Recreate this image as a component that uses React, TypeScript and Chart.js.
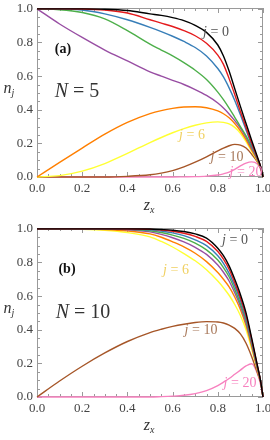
import React, { useEffect, useRef } from "react";
import { Chart, registerables } from "chart.js";
Chart.register(...registerables);

// ---- data ----
const zx = [0, 0.1, 0.2, 0.3, 0.4, 0.5, 0.55, 0.6, 0.65, 0.7, 0.75, 0.8, 0.825, 0.85, 0.875, 0.9, 0.925, 0.95, 0.975, 0.99, 1];

// panel (a) N = 5
const a_j0 = [1, 1, 1, 0.998, 0.99, 0.97, 0.961, 0.948, 0.93, 0.902, 0.86, 0.785, 0.72, 0.63, 0.525, 0.42, 0.318, 0.217, 0.12, 0.06, 0];
const a_j1 = [1, 1, 0.999, 0.993, 0.975, 0.935, 0.915, 0.895, 0.87, 0.84, 0.795, 0.725, 0.67, 0.585, 0.49, 0.39, 0.295, 0.2, 0.115, 0.059, 0];
const a_j2 = [1, 1, 0.993, 0.97, 0.935, 0.89, 0.865, 0.837, 0.806, 0.77, 0.72, 0.645, 0.595, 0.53, 0.455, 0.37, 0.28, 0.19, 0.11, 0.058, 0];
const a_j3 = [1, 0.995, 0.978, 0.94, 0.87, 0.79, 0.755, 0.72, 0.68, 0.635, 0.58, 0.505, 0.46, 0.41, 0.355, 0.3, 0.245, 0.18, 0.107, 0.056, 0];
const a_j4 = [1, 0.91, 0.83, 0.755, 0.69, 0.625, 0.6, 0.575, 0.55, 0.52, 0.485, 0.44, 0.41, 0.375, 0.335, 0.29, 0.235, 0.17, 0.104, 0.055, 0];
const a_j5 = [0, 0.087, 0.172, 0.255, 0.325, 0.377, 0.395, 0.408, 0.416, 0.418, 0.412, 0.393, 0.376, 0.352, 0.318, 0.275, 0.222, 0.16, 0.1, 0.055, 0];
const a_j6 = [0, 0.008, 0.035, 0.08, 0.14, 0.205, 0.235, 0.263, 0.288, 0.308, 0.322, 0.328, 0.325, 0.316, 0.295, 0.26, 0.21, 0.152, 0.096, 0.053, 0];
const a_j10 = [0, 0, 0, 0, 0.004, 0.013, 0.023, 0.038, 0.06, 0.088, 0.12, 0.155, 0.172, 0.186, 0.194, 0.19, 0.172, 0.135, 0.09, 0.05, 0];
const a_j20 = [0, 0, 0, 0, 0, 0, 0, 0, 0.001, 0.002, 0.005, 0.012, 0.019, 0.029, 0.046, 0.066, 0.083, 0.09, 0.078, 0.045, 0];

// panel (b) N = 10
const b_j0 = [1, 1, 1, 1, 1, 0.999, 0.996, 0.992, 0.984, 0.97, 0.945, 0.885, 0.84, 0.78, 0.7, 0.61, 0.5, 0.35, 0.19, 0.09, 0];
const b_j1 = [1, 1, 1, 1, 0.999, 0.997, 0.993, 0.986, 0.974, 0.955, 0.925, 0.865, 0.82, 0.76, 0.68, 0.59, 0.485, 0.34, 0.185, 0.09, 0];
const b_j2 = [1, 1, 1, 1, 0.998, 0.994, 0.987, 0.976, 0.96, 0.935, 0.9, 0.84, 0.795, 0.735, 0.66, 0.575, 0.47, 0.33, 0.18, 0.09, 0];
const b_j3 = [1, 1, 1, 1, 0.998, 0.989, 0.978, 0.963, 0.943, 0.915, 0.875, 0.815, 0.77, 0.715, 0.64, 0.555, 0.455, 0.32, 0.175, 0.09, 0];
const b_j4 = [1, 1, 1, 0.999, 0.995, 0.982, 0.967, 0.947, 0.922, 0.89, 0.848, 0.785, 0.742, 0.69, 0.62, 0.54, 0.44, 0.31, 0.17, 0.088, 0];
const b_j5 = [1, 1, 0.999, 0.996, 0.988, 0.97, 0.95, 0.923, 0.893, 0.855, 0.805, 0.74, 0.7, 0.655, 0.595, 0.52, 0.425, 0.3, 0.165, 0.088, 0];
const b_j6 = [1, 1, 0.998, 0.992, 0.978, 0.952, 0.925, 0.892, 0.853, 0.81, 0.757, 0.69, 0.65, 0.605, 0.55, 0.485, 0.4, 0.285, 0.16, 0.086, 0];
const b_j10 = [0, 0.095, 0.183, 0.262, 0.33, 0.383, 0.403, 0.42, 0.433, 0.443, 0.448, 0.446, 0.44, 0.428, 0.408, 0.375, 0.32, 0.24, 0.145, 0.085, 0];
const b_j20 = [0, 0, 0, 0, 0, 0, 0.002, 0.005, 0.01, 0.02, 0.038, 0.068, 0.088, 0.11, 0.135, 0.16, 0.185, 0.198, 0.14, 0.07, 0];

const seriesNames = ["j=0", "j=1", "j=2", "j=3", "j=4", "j=5", "j=6", "j=10", "j=20"];
const seriesColors = ["#000000", "#e41a1c", "#377eb8", "#4daf4a", "#984ea3", "#ff7f00", "#ffff33", "#a65628", "#f781bf"];

const majorTicks = [0, 0.2, 0.4, 0.6, 0.8, 1.0];
const tickLabels = ["0.0", "0.2", "0.4", "0.6", "0.8", "1.0"];
const minorTicks = [0.05, 0.1, 0.15, 0.25, 0.3, 0.35, 0.45, 0.5, 0.55, 0.65, 0.7, 0.75, 0.85, 0.9, 0.95];

type Seg = { t: string; f: string; dy?: number };

function drawRich(ctx: CanvasRenderingContext2D, segs: Seg[], cx: number, cy: number, color: string) {
  ctx.save();
  ctx.fillStyle = color;
  ctx.textBaseline = "middle";
  ctx.textAlign = "left";
  let w = 0;
  for (const s of segs) { ctx.font = s.f; w += ctx.measureText(s.t).width; }
  let x = cx - w / 2;
  for (const s of segs) {
    ctx.font = s.f;
    ctx.fillText(s.t, x, cy + (s.dy || 0));
    x += ctx.measureText(s.t).width;
  }
  ctx.restore();
}

const SERIF = '"Liberation Serif", "DejaVu Serif", serif';

type Ann = { segs: Seg[]; x: number; y: number; color: string };

function jLabel(n: string): Seg[] {
  return [
    { t: "j", f: `italic 14px ${SERIF}` },
    { t: " = " + n, f: `14px ${SERIF}` },
  ];
}

const annA: Ann[] = [
  { segs: [{ t: "(a)", f: `bold 14px ${SERIF}` }], x: 63, y: 49, color: "#111" },
  { segs: [{ t: "N", f: `italic 20px ${SERIF}` }, { t: " = 5", f: `20px ${SERIF}` }], x: 77, y: 92, color: "#333" },
  { segs: jLabel("0"), x: 216, y: 32, color: "#555" },
  { segs: jLabel("6"), x: 192, y: 135, color: "#f0d060" },
  { segs: jLabel("10"), x: 227, y: 157, color: "#a8785a" },
  { segs: jLabel("20"), x: 246, y: 172, color: "#f781bf" },
];
const annB: Ann[] = [
  { segs: [{ t: "(b)", f: `bold 14px ${SERIF}` }], x: 67, y: 49, color: "#111" },
  { segs: [{ t: "N", f: `italic 20px ${SERIF}` }, { t: " = 10", f: `20px ${SERIF}` }], x: 83, y: 93, color: "#333" },
  { segs: jLabel("0"), x: 235, y: 20, color: "#555" },
  { segs: jLabel("6"), x: 176, y: 50, color: "#f0d060" },
  { segs: jLabel("10"), x: 201, y: 110, color: "#a8785a" },
  { segs: jLabel("20"), x: 240, y: 163, color: "#f781bf" },
];

function makePlugin(anns: Ann[]) {
  return {
    id: "frameAndText",
    beforeDatasetsDraw(chart: any) {
      const { ctx, chartArea } = chart;
      const { left, right, top, bottom } = chartArea;
      const xs = chart.scales.x;
      const ys = chart.scales.y;
      ctx.save();
      ctx.strokeStyle = "#9a9a9a";
      ctx.lineWidth = 1;
      ctx.strokeRect(Math.round(left) + 0.5, Math.round(top) + 0.5, Math.round(right - left) - 1, Math.round(bottom - top) - 1);
      ctx.beginPath();
      const tick = (v: number, len: number) => {
        const px = Math.round(xs.getPixelForValue(v)) + 0.5;
        ctx.moveTo(px, bottom); ctx.lineTo(px, bottom - len);
        ctx.moveTo(px, top); ctx.lineTo(px, top + len);
        const py = Math.round(ys.getPixelForValue(v)) + 0.5;
        ctx.moveTo(left, py); ctx.lineTo(left + len, py);
        ctx.moveTo(right, py); ctx.lineTo(right - len, py);
      };
      majorTicks.forEach((v) => tick(v, 5));
      minorTicks.forEach((v) => tick(v, 3));
      ctx.stroke();
      ctx.fillStyle = "#444";
      ctx.font = `13px ${SERIF}`;
      ctx.textBaseline = "middle";
      majorTicks.forEach((v, i) => {
        ctx.textAlign = "center";
        ctx.fillText(tickLabels[i], xs.getPixelForValue(v), bottom + 12);
        ctx.textAlign = "right";
        ctx.fillText(tickLabels[i], left - 4, ys.getPixelForValue(v));
      });
      ctx.restore();
      drawRich(ctx, [{ t: "n", f: `italic 16px ${SERIF}` }, { t: "j", f: `italic 10px ${SERIF}`, dy: 4 }], 9, 89, "#333");
      drawRich(ctx, [{ t: "z", f: `italic 16px ${SERIF}` }, { t: "x", f: `italic 10px ${SERIF}`, dy: 4 }], 149, 206, "#333");
    },
    afterDatasetsDraw(chart: any) {
      const { ctx } = chart;
      anns.forEach((a) => drawRich(ctx, a.segs, a.x, a.y, a.color));
    },
  };
}

function Panel({ series, anns }: { series: number[][]; anns: Ann[] }) {
  const ref = useRef<HTMLCanvasElement>(null);
  useEffect(() => {
    const c = ref.current!;
    const chart = new Chart(c, {
      type: "line",
      data: {
        datasets: series.map((s, i) => ({
          label: seriesNames[i],
          data: s.map((v, k) => ({ x: zx[k], y: v })),
          borderColor: seriesColors[i],
          borderWidth: 1.4,
          pointRadius: 0,
          fill: false,
          cubicInterpolationMode: "monotone" as const,
          clip: 4,
        })),
      },
      options: {
        responsive: false,
        animation: false,
        devicePixelRatio: 1,
        layout: { padding: { left: 37, right: 7, top: 8, bottom: 43 } },
        plugins: { legend: { display: false }, tooltip: { enabled: false } },
        scales: {
          x: { type: "linear", min: 0, max: 1, display: false },
          y: { type: "linear", min: 0, max: 1.005, display: false },
        },
      },
      plugins: [makePlugin(anns)],
    });
    return () => chart.destroy();
  }, []);
  return <canvas ref={ref} width={270} height={220} style={{ display: "block", width: 270, height: 220 }} />;
}

export default function App() {
  return (
    <div style={{ position: "absolute", left: 0, top: 0, width: 270, height: 440, background: "#fff" }}>
      <Panel series={[a_j0, a_j1, a_j2, a_j3, a_j4, a_j5, a_j6, a_j10, a_j20]} anns={annA} />
      <Panel series={[b_j0, b_j1, b_j2, b_j3, b_j4, b_j5, b_j6, b_j10, b_j20]} anns={annB} />
    </div>
  );
}
